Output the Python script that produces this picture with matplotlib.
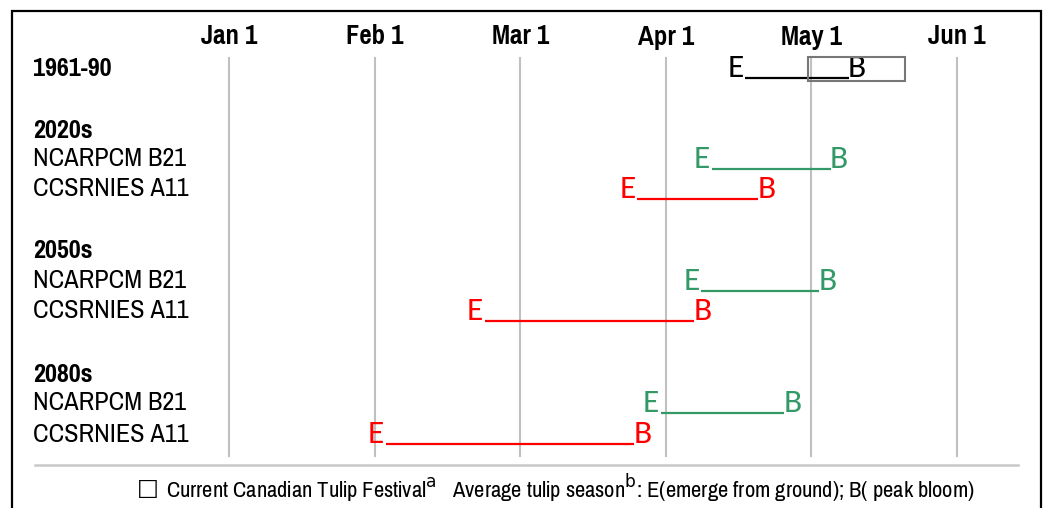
import matplotlib
matplotlib.use('Agg')
import matplotlib.pyplot as plt
from matplotlib import font_manager as fm
from matplotlib.patches import Rectangle

# month ticks (index = months after Jan 1)
months = ['Jan 1', 'Feb 1', 'Mar 1', 'Apr 1', 'May 1', 'Jun 1']

# row labels; bold ones are period headers
row_labels = ['1961-90', '2020s', 'NCARPCM B21', 'CCSRNIES A11',
              '2050s', 'NCARPCM B21', 'CCSRNIES A11',
              '2080s', 'NCARPCM B21', 'CCSRNIES A11']
row_bold = [True, True, False, False, True, False, False, True, False, False]
row_y = [68, 131, 159, 189, 251, 281, 311, 374, 403, 434]

# E = emerge from ground, B = peak bloom (in months after Jan 1)
season_rows = [0, 2, 3, 5, 6, 8, 9]
season_emerge = [3.48, 3.25, 2.74, 3.18, 1.69, 2.90, 1.01]
season_bloom = [4.31, 4.19, 3.69, 4.11, 3.25, 3.87, 2.84]
season_color = ['black', '#339966', '#ff0000', '#339966', '#ff0000', '#339966', '#ff0000']

# current Canadian Tulip Festival (box)
festival = (3.98, 4.64)

footer = ('Current Canadian Tulip Festival$^{\\mathrm{a}}$   Average tulip season$^{\\mathrm{b}}$: '
          'E(emerge from ground); B( peak bloom)')

faces = fm.fontManager.ttflist


def has_bold(name):
    return any(f.name == name and str(f.weight) in ('700', 'bold') for f in faces)


def pick(cands):
    for c in cands:
        if has_bold(c):
            return c
    return 'DejaVu Sans'


narrow = pick(['Liberation Sans Narrow', 'Pragati Narrow', 'Roboto Condensed',
               'PT Sans Narrow', 'Archivo Narrow', 'Asap Condensed'])
letter_font = pick(['Carlito', 'Lato', 'Open Sans'])

W, H = 1045, 508
fig = plt.figure(figsize=(W / 100, H / 100), dpi=100)
ax = fig.add_axes([0, 0, 1, 1])
x0, step = 229, 145.6
ax.set_xlim(-x0 / step, (W - x0) / step)
ax.set_ylim(H, 0)
ax.axis('off')
rend = fig.canvas.get_renderer()


def fit(t, width):
    # scale a text so it spans the reference's pixel width
    w = t.get_window_extent(rend).width
    t.set_fontsize(t.get_fontsize() * width / w)


for i, m in enumerate(months):
    ax.plot([i, i], [58, 456], color='#c0c0c0', lw=1.5, zorder=1)
    t = ax.text(i, 37, m, ha='center', va='center', fontsize=16, fontweight='bold',
                family=narrow)
    if i == 0:
        fit(t, 56)
        msize = t.get_fontsize()
    else:
        t.set_fontsize(msize)

lsize = None
for lab, b, y in zip(row_labels, row_bold, row_y):
    t = ax.text(33 / W, y, lab, transform=ax.get_yaxis_transform(), ha='left', va='center',
                fontsize=17, fontweight='bold' if b else 'normal', family=narrow)
    if lsize is None and lab == 'NCARPCM B21':
        fit(t, 153)
        lsize = t.get_fontsize()
for t in ax.texts[len(months):]:
    t.set_fontsize(lsize)

for r, e, bl, c in zip(season_rows, season_emerge, season_bloom, season_color):
    y = row_y[r]
    ax.text(e, y, 'E', ha='center', va='center', fontsize=24, color=c, family=letter_font)
    ax.text(bl, y, 'B', ha='center', va='center', fontsize=24, color=c, family=letter_font)
    ax.plot([e + 0.065, bl - 0.055], [y + 10, y + 10], color=c, lw=1.6, zorder=2,
            solid_capstyle='butt')

ax.add_patch(Rectangle((festival[0], 57), festival[1] - festival[0], 24, fill=False,
                       edgecolor='#777777', lw=1.5, zorder=3))

ax.plot([35 / W, 1018 / W], [465, 465], transform=ax.get_yaxis_transform(),
        color='#c8c8c8', lw=1.8)

ft = fig.text(570 / W, 1 - 489 / H, footer, ha='center', va='center', fontsize=14,
              family=narrow)
fit(ft, 810)
ax.annotate('\u25a1', xy=(0, 0.5), xycoords=ft, xytext=(-5, 0), textcoords='offset points',
            ha='right', va='center', fontsize=ft.get_fontsize() - 1, family='DejaVu Sans')

fig.patches.append(Rectangle((12 / W, -0.1), (1041 - 12) / W, 1.1 - 11 / H,
                             transform=fig.transFigure, fill=False, edgecolor='black', lw=1.6))

fig.savefig('out.png', dpi=100)
